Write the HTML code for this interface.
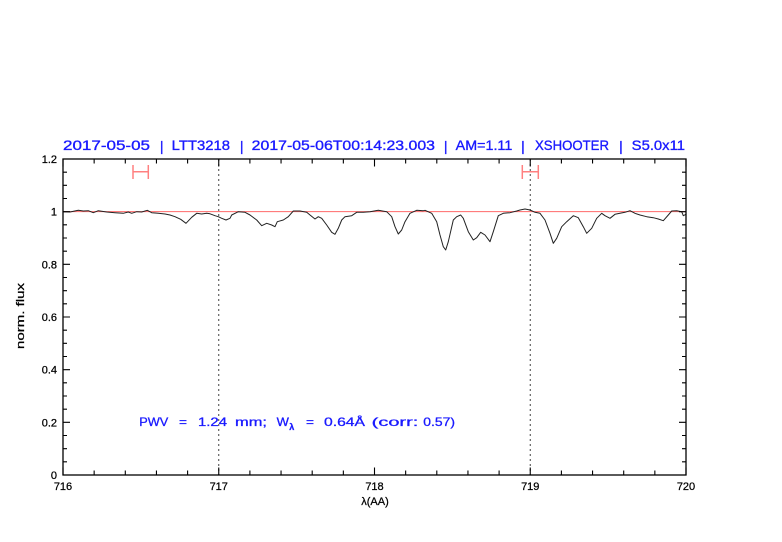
<!DOCTYPE html>
<html>
<head>
<meta charset="utf-8">
<style>
html,body{margin:0;padding:0;background:#fff;}
svg{display:block;}
text{font-family:"Liberation Sans",sans-serif;}
</style>
</head>
<body>
<svg width="782" height="542" viewBox="0 0 782 542" xmlns="http://www.w3.org/2000/svg">
<rect width="782" height="542" fill="#fff"/>

<!-- Title -->
<g fill="#1a1aff" stroke="#1a1aff" stroke-width="0.35" font-size="14">
<text x="63" y="150" textLength="87" lengthAdjust="spacingAndGlyphs">2017-05-05</text>
<text x="161.7" y="151" text-anchor="middle">|</text>
<text x="171.7" y="150" textLength="58.3" lengthAdjust="spacingAndGlyphs">LTT3218</text>
<text x="241.7" y="151" text-anchor="middle">|</text>
<text x="251.7" y="150" textLength="183.3" lengthAdjust="spacingAndGlyphs">2017-05-06T00:14:23.003</text>
<text x="445.7" y="151" text-anchor="middle">|</text>
<text x="455.7" y="150" textLength="56.6" lengthAdjust="spacingAndGlyphs">AM=1.11</text>
<text x="523" y="151" text-anchor="middle">|</text>
<text x="535" y="150" textLength="74" lengthAdjust="spacingAndGlyphs">XSHOOTER</text>
<text x="621" y="151" text-anchor="middle">|</text>
<text x="631.7" y="150" textLength="53.3" lengthAdjust="spacingAndGlyphs">S5.0x11</text>
</g>

<!-- reference line at 1.0 -->
<line x1="63" y1="211.67" x2="686" y2="211.67" stroke="#ff6a6a" stroke-width="1"/>

<!-- dotted vertical lines -->
<line x1="218.75" y1="159" x2="218.75" y2="475" stroke="#444" stroke-width="1" stroke-dasharray="2,3"/>
<line x1="530.25" y1="159" x2="530.25" y2="475" stroke="#444" stroke-width="1" stroke-dasharray="2,3"/>

<!-- error bars -->
<g stroke="#ff8080" stroke-width="1.5" fill="none">
<path d="M133 171.7H148.3M133 165V179M148.3 165V179"/>
<path d="M522.3 171.7H538.3M522.3 165V179M538.3 165V179"/>
</g>

<!-- spectrum -->
<polyline fill="none" stroke="#222" stroke-width="1" stroke-linejoin="round" points="63,211.7 70,212 78.3,210.3 83.3,211 88.3,210.7 93.3,212.7 98.3,210.7 106.7,212 115,212.7 123.3,213.3 128.3,212 131.7,213.3 136.7,211.7 141.7,212 147.3,210.3 151.7,212.7 158.3,213.3 165,214 170,215 175,216.7 180.7,219.3 186,223.3 191.7,217.3 196.7,213.3 201.7,214 206.7,213.3 210,213.8 215,215.7 218.3,216.7 221.7,218.3 226,220 230,218.3 231.7,215 238.3,211.7 245,212.3 250,215 256.7,220 261.7,225.7 266.7,223.3 271.7,225 275,226.7 277.3,221.7 283.3,220 288.3,216.7 293.3,211 300,211 306.7,212.3 310,215 315,219 318.3,216.7 321.7,218.3 326.7,225 331.7,232.3 335,234.3 338.3,228.3 341.7,220 345,216.7 351.7,215.7 356.7,212.3 363.3,212.3 370,211.7 378.3,210.3 386.7,211.7 391.7,216.7 395,226.7 398.3,234 401.7,230 405,221.7 410,213.3 416.7,210.3 423.3,210.7 425,210.3 431.7,213.3 436.7,221.7 440,235 443.3,246.7 445.7,250 448.3,241.7 453.3,220 456.7,216.7 460.7,215 463.3,218.3 468.3,231.7 473.3,240 476.7,237.7 480.7,232.3 485,235 490,241.7 493.3,231.7 498.3,215.7 503.3,213.3 510,212.7 516.7,211 520,210 525,209 530,210 535,212.3 540,213.3 545,220 550,233.3 553.3,243.3 556.7,238.3 561.7,226.7 566.7,221.7 573.3,215.7 578.3,217.7 583.3,226.7 586.7,233.3 591.7,228.3 596.7,218.3 601.7,213.3 605,215.7 610,218.3 615,214.3 620,213.3 625,212.3 630,210.7 635,213.3 640,215 646.7,216.7 653.3,217.7 658.3,219 663.3,220.7 668.3,215 671.7,211 676.7,210.7 681.7,211.7 683.3,215.7 686,214.3"/>

<!-- axes frame -->
<rect x="63" y="159" width="623" height="316" fill="none" stroke="#000" stroke-width="1.3"/>

<!-- ticks -->
<g stroke="#000" stroke-width="1.1" fill="none">
<path d="M63 475h7M63 461.83h4M63 448.67h4M63 435.5h4M63 422.33h7M63 409.17h4M63 396h4M63 382.83h4M63 369.67h7M63 356.5h4M63 343.33h4M63 330.17h4M63 317h7M63 303.83h4M63 290.67h4M63 277.5h4M63 264.33h7M63 251.17h4M63 238h4M63 224.83h4M63 211.67h7M63 198.5h4M63 185.33h4M63 172.17h4M63 159h7"/>
<path d="M686 475h-7M686 461.83h-4M686 448.67h-4M686 435.5h-4M686 422.33h-7M686 409.17h-4M686 396h-4M686 382.83h-4M686 369.67h-7M686 356.5h-4M686 343.33h-4M686 330.17h-4M686 317h-7M686 303.83h-4M686 290.67h-4M686 277.5h-4M686 264.33h-7M686 251.17h-4M686 238h-4M686 224.83h-4M686 211.67h-7M686 198.5h-4M686 185.33h-4M686 172.17h-4M686 159h-7"/>
<path d="M63 475v-7.5M94.15 475v-4.5M125.3 475v-4.5M156.45 475v-4.5M187.6 475v-4.5M218.75 475v-7.5M249.9 475v-4.5M281.05 475v-4.5M312.2 475v-4.5M343.35 475v-4.5M374.5 475v-7.5M405.65 475v-4.5M436.8 475v-4.5M467.95 475v-4.5M499.1 475v-4.5M530.25 475v-7.5M561.4 475v-4.5M592.55 475v-4.5M623.7 475v-4.5M654.85 475v-4.5M686 475v-7.5"/>
<path d="M63 159v7.5M94.15 159v4.5M125.3 159v4.5M156.45 159v4.5M187.6 159v4.5M218.75 159v7.5M249.9 159v4.5M281.05 159v4.5M312.2 159v4.5M343.35 159v4.5M374.5 159v7.5M405.65 159v4.5M436.8 159v4.5M467.95 159v4.5M499.1 159v4.5M530.25 159v7.5M561.4 159v4.5M592.55 159v4.5M623.7 159v4.5M654.85 159v4.5M686 159v7.5"/>
</g>

<!-- y tick labels -->
<g font-size="11" fill="#000" stroke="#000" stroke-width="0.25" text-anchor="end">
<text x="57" y="479">0</text>
<text x="57" y="426.3">0.2</text>
<text x="57" y="373.7">0.4</text>
<text x="57" y="321">0.6</text>
<text x="57" y="268.3">0.8</text>
<text x="57" y="215.7">1</text>
<text x="57" y="163">1.2</text>
</g>

<!-- x tick labels -->
<g font-size="11" fill="#000" stroke="#000" stroke-width="0.25" text-anchor="middle">
<text x="63" y="490">716</text>
<text x="218.75" y="490">717</text>
<text x="374.5" y="490">718</text>
<text x="530.25" y="490">719</text>
<text x="686" y="490">720</text>
</g>

<!-- axis labels -->
<text x="375" y="505" font-size="11" fill="#000" stroke="#000" stroke-width="0.25" text-anchor="middle">λ(AA)</text>
<text transform="translate(24,316) rotate(-90)" font-size="11" fill="#000" stroke="#000" stroke-width="0.25" text-anchor="middle" textLength="66" lengthAdjust="spacingAndGlyphs">norm. flux</text>

<!-- annotation -->
<g fill="#1a1aff" stroke="#1a1aff" stroke-width="0.3" font-size="12">
<text x="139.3" y="426" textLength="29" lengthAdjust="spacingAndGlyphs">PWV</text>
<text x="179" y="426" textLength="8" lengthAdjust="spacingAndGlyphs">=</text>
<text x="198" y="426" textLength="29" lengthAdjust="spacingAndGlyphs">1.24</text>
<text x="235" y="426" textLength="32" lengthAdjust="spacingAndGlyphs">mm;</text>
<text x="276.7" y="426" textLength="12.3" lengthAdjust="spacingAndGlyphs">W</text>
<text x="289.3" y="430" font-size="9" font-weight="bold">λ</text>
<text x="306" y="426" textLength="8" lengthAdjust="spacingAndGlyphs">=</text>
<text x="324" y="426" textLength="41" lengthAdjust="spacingAndGlyphs">0.64Å</text>
<text x="371.7" y="426" textLength="46.6" lengthAdjust="spacingAndGlyphs">(corr:</text>
<text x="423.3" y="426" textLength="31.7" lengthAdjust="spacingAndGlyphs">0.57)</text>
</g>
</svg>
</body>
</html>
